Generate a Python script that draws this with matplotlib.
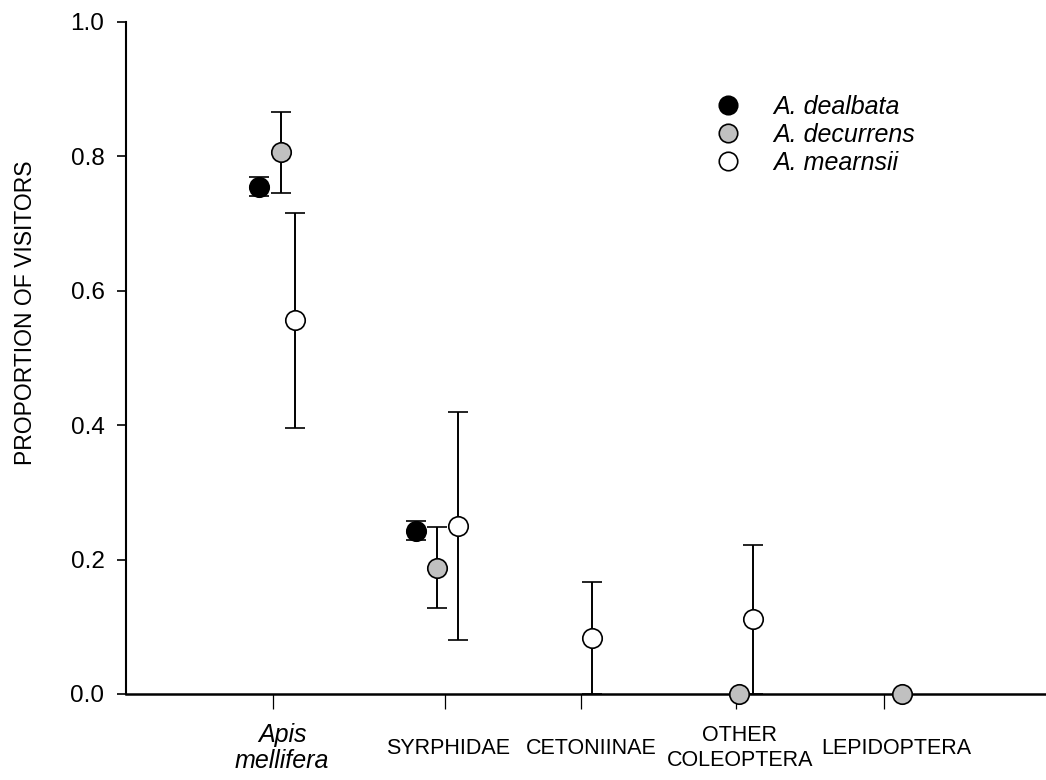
import matplotlib
matplotlib.use('Agg')
import matplotlib.pyplot as plt
from matplotlib.lines import Line2D
import numpy as np

plt.rcParams['font.family'] = ['Liberation Sans', 'DejaVu Sans']

# tick positions and category labels (x)
tick_pos = [0.98, 2.127, 3.033, 4.067, 5.053]
label_pos = [1.04, 2.15, 3.10, 4.093, 5.133]
cat_labels = ['Apis\nmellifera', 'SYRPHIDAE', 'CETONIINAE', 'OTHER\nCOLEOPTERA', 'LEPIDOPTERA']
cat_italic = [True, False, False, False, False]

# A. dealbata
deal_x = [0.887, 1.933]
deal_y = [0.755, 0.243]
deal_err = [0.014, 0.014]

# A. decurrens
decu_x = [1.033, 2.073, 4.087, 5.173]
decu_y = [0.806, 0.188, 0.0, 0.0]
decu_err = [0.06, 0.06, 0.0, 0.0]

# A. mearnsii
mear_x = [1.127, 2.213, 3.107, 4.18]
mear_y = [0.556, 0.25, 0.083, 0.111]
mear_err = [0.16, 0.17, 0.083, 0.111]

fig = plt.figure(figsize=(10.46, 7.8), dpi=100)
ax = fig.add_axes([126/1046, 86/780, 920/1046, 672/780])

styles = [
    (deal_x, deal_y, deal_err, 'black', 'A. dealbata'),
    (decu_x, decu_y, decu_err, '#c0c0c0', 'A. decurrens'),
    (mear_x, mear_y, mear_err, 'white', 'A. mearnsii'),
]
for xs, ys, es, fc, name in styles:
    ax.errorbar(xs, ys, yerr=es, fmt='o', ms=14, mfc=fc, mec='black', mew=1.2,
                ecolor='black', elinewidth=1.4, capsize=7, capthick=1.4,
                zorder=4, clip_on=False)

ax.set_xlim(0, 6.133)
ax.set_ylim(0, 1.0)
ax.set_yticks(np.arange(0, 1.01, 0.2))
ax.set_yticklabels(['%.1f' % v for v in np.arange(0, 1.01, 0.2)], fontsize=17.5)
ax.set_xticks(tick_pos)
ax.set_xticklabels([])

ax.spines['top'].set_visible(False)
ax.spines['right'].set_visible(False)
ax.spines['left'].set_linewidth(1.5)
ax.spines['bottom'].set_linewidth(1.8)
ax.tick_params(axis='y', direction='out', length=6.5, width=1.2, pad=9)
ax.tick_params(axis='x', direction='out', length=11, width=0.9)

for xp, lab, it in zip(label_pos, cat_labels, cat_italic):
    ax.text(xp, -0.081, lab, transform=ax.get_xaxis_transform(),
            ha='center', va='center', multialignment='center',
            fontsize=18 if it else 15.5, style='italic' if it else 'normal',
            linespacing=1.1 if it else 1.25)

ax.set_ylabel('PROPORTION OF VISITORS', fontsize=16.5)
ax.yaxis.set_label_coords(-0.097, 0.568)

handles = [Line2D([], [], ls='none', marker='o', ms=14, mfc=fc, mec='black', mew=1.2)
           for _, _, _, fc, _ in styles]
names = [s[4] for s in styles]
leg = ax.legend(handles, names, loc='upper left', bbox_to_anchor=(0.644, 0.892),
                frameon=False, borderpad=0, borderaxespad=0, handlelength=0.75,
                handletextpad=1.45, labelspacing=0.16, fontsize=18, markerscale=0.95)
for t in leg.get_texts():
    t.set_style('italic')

plt.savefig('out.png', dpi=100)
